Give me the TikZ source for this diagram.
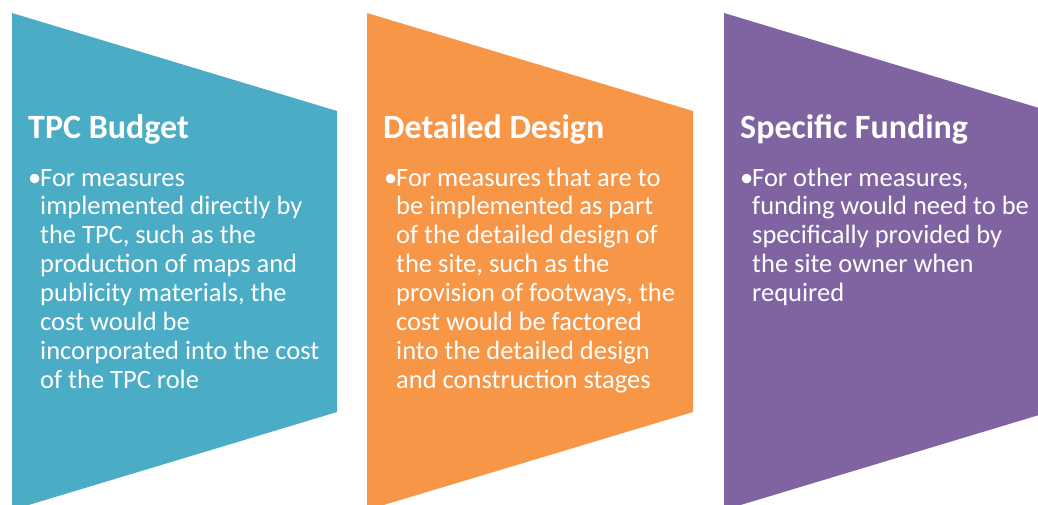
\documentclass[tikz,border=0pt]{standalone}
\usepackage{fontspec}
\setmainfont{Carlito}
\definecolor{cteal}{HTML}{4BACC6}
\definecolor{corange}{HTML}{F79646}
\definecolor{cpurple}{HTML}{8064A2}
\begin{document}
\begin{tikzpicture}[x=1pt,y=-1pt,
  title/.style={anchor=base west,inner sep=0pt,text=white,font=\fontsize{34}{40}\selectfont\bfseries},
  body/.style={anchor=base west,inner sep=0pt,text=white,font=\fontsize{26.5}{31}\selectfont}]
\useasboundingbox (0,0) rectangle (1038,504);
\clip (0,0) rectangle (1038,504);
% chevrons
\fill[cteal] (12,13) -- (337,111) -- (337,412) -- (12,510) -- cycle;
\fill[corange] (367,13) -- (693,111) -- (693,412) -- (367,510) -- cycle;
\fill[cpurple] (724,13) -- (1049,111) -- (1049,412) -- (724,510) -- cycle;
% titles
\node[title] (t1) at (28,138) {TPC Budget};
\node[title] (t2) at (383,138) {Detailed Design};
\node[title] (t3) at (740,138) {Specific Funding};
% bullets
\node[body] (b1) at (28,186) {•};
\node[body] (b2) at (384,186) {•};
\node[body] (b3) at (740,186) {•};
% body lines
\foreach \s [count=\i from 0] in {For measures,implemented directly by,{the TPC, such as the},production of maps and,{publicity materials, the},cost would be,incorporated into the cost,of the TPC role}
  \node[body] (a\i) at (40,186+28.9*\i) {\s};
\foreach \s [count=\i from 0] in {For measures that are to,be implemented as part,of the detailed design of,{the site, such as the},{provision of footways, the},cost would be factored,into the detailed design,and construction stages}
  \node[body] (c\i) at (396,186+28.9*\i) {\s};
\foreach \s [count=\i from 0] in {{For other measures,},funding would need to be,specifically provided by,the site owner when,required}
  \node[body] (d\i) at (752,186+28.9*\i) {\s};
\end{tikzpicture}
\end{document}
